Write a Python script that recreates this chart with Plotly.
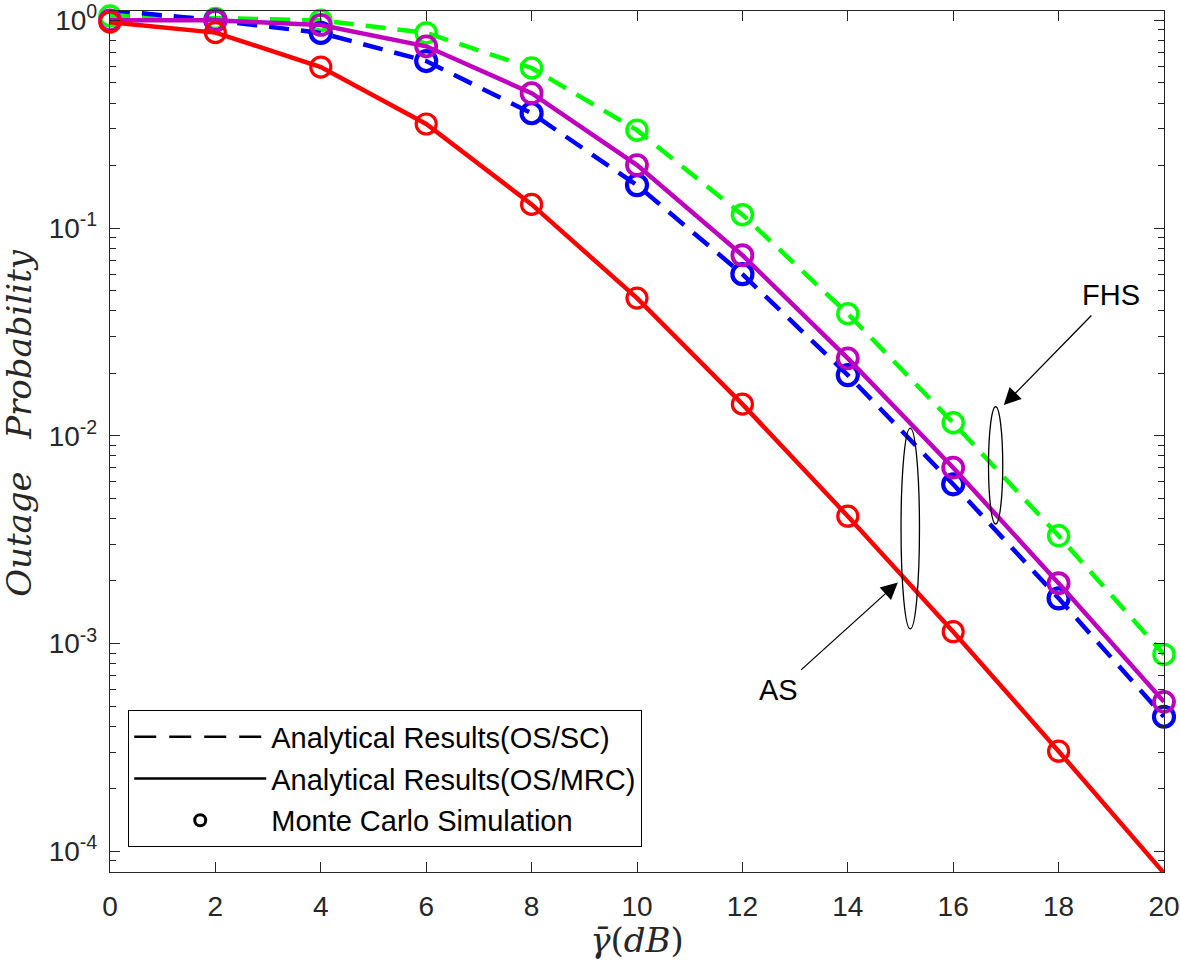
import plotly.graph_objects as go

snr_db = [0, 2, 4, 6, 8, 10, 12, 14, 16, 18, 20]

# Outage probability values
sc_fhs = [1.05, 1.02, 1.0, 0.87, 0.59, 0.296, 0.116, 0.0387, 0.01155, 0.0033, 0.000886]      # green dashed
mrc_fhs = [1.0, 1.0, 0.95, 0.75, 0.446, 0.201, 0.074, 0.0236, 0.00702, 0.00195, 0.000524]    # magenta solid
sc_as = [1.12, 1.0, 0.87, 0.637, 0.357, 0.161, 0.060, 0.0196, 0.00584, 0.00165, 0.000444]    # blue dashed
mrc_as = [0.98, 0.873, 0.596, 0.317, 0.130, 0.046, 0.0142, 0.0041, 0.00114, 0.000303, 0.0000785]  # red solid

ytick_exps = [0, -1, -2, -3, -4]
ytick_text = ["10<sup>0</sup>", "10<sup>-1</sup>", "10<sup>-2</sup>", "10<sup>-3</sup>", "10<sup>-4</sup>"]
xtick_vals = [0, 2, 4, 6, 8, 10, 12, 14, 16, 18, 20]

legend_names = ["Analytical Results(OS/SC)", "Analytical Results(OS/MRC)", "Monte Carlo Simulation"]

fig = go.Figure()

series = [
    (sc_fhs, "#00FF00", "20px,12px", 3.5),
    (sc_as, "#0000FF", "20px,12px", 4.2),
    (mrc_fhs, "#BF00BF", "solid", 3.8),
    (mrc_as, "#FF0000", "solid", 3.2),
]
for vals, col, dash, mlw in series:
    fig.add_trace(go.Scatter(
        x=snr_db, y=vals, mode="lines+markers",
        line=dict(color=col, width=4.5, dash=dash),
        marker=dict(symbol="circle-open", size=20, color=col, line=dict(width=mlw, color=col)),
        showlegend=False, cliponaxis=False,
    ))

# legend entries
fig.add_trace(go.Scatter(x=[None], y=[None], mode="lines", name=legend_names[0],
                         line=dict(color="black", width=2.5, dash="22px,13px"), legendgroup="a"))
fig.add_trace(go.Scatter(x=[None], y=[None], mode="lines", name=legend_names[1],
                         line=dict(color="black", width=2.5), legendgroup="b"))
fig.add_trace(go.Scatter(x=[None], y=[None], mode="markers", name=legend_names[2],
                         marker=dict(symbol="circle-open", size=11, color="black", line=dict(width=3, color="black")),
                         legendgroup="c"))

# ellipses
fig.add_shape(type="circle", xref="x", yref="y", x0=15.01, x1=15.36, y0=0.001175, y1=0.01089,
              line=dict(color="black", width=1.3))
fig.add_shape(type="circle", xref="x", yref="y", x0=16.67, x1=16.94, y0=0.00376, y1=0.0138,
              line=dict(color="black", width=1.3))

# labelled arrows (annotation positions on the log axis are in log10 units)
fig.add_annotation(x=16.96, y=-1.852, ax=19.0, ay=-1.323, axref="x", ayref="y", xref="x", yref="y",
                   text="FHS", showarrow=True, arrowhead=2, arrowsize=2.6, arrowwidth=1.3, arrowcolor="black",
                   standoff=0, startstandoff=4,
                   font=dict(family="Liberation Sans", size=29, color="black"))
fig.add_annotation(x=14.95, y=-2.706, ax=12.69, ay=-3.224, axref="x", ayref="y", xref="x", yref="y",
                   text="AS", showarrow=True, arrowhead=2, arrowsize=2.6, arrowwidth=1.3, arrowcolor="black",
                   standoff=0, startstandoff=4,
                   font=dict(family="Liberation Sans", size=29, color="black"))

# y-axis title placed as a rotated annotation to match the reference position
fig.add_annotation(x=-0.087, y=0.522, xref="paper", yref="paper", xanchor="center", yanchor="middle",
                   text="<i>Outage\u00a0\u00a0\u00a0Probability</i>", textangle=-90, showarrow=False,
                   font=dict(family="DejaVu Serif", size=34, color="#262626"))

axis_common = dict(
    showline=True, linecolor="#262626", linewidth=1.3, mirror="ticks",
    ticks="inside", ticklen=10, tickwidth=1.3, tickcolor="#262626",
    showgrid=False, zeroline=False, automargin=False, ticklabeloverflow="allow",
    tickfont=dict(family="Liberation Sans", size=28, color="#262626"),
)

minor_vals = [m * 10 ** e for e in [-5, -4, -3, -2, -1, 0] for m in range(2, 10)]

fig.update_xaxes(range=[0, 20], tickvals=xtick_vals, ticklabelstandoff=9, **axis_common,
                 title=dict(text="<i>γ̄</i>(<i>dB</i>)", font=dict(family="DejaVu Serif", size=34, color="#262626"),
                            standoff=0))
fig.update_yaxes(type="log", range=[-4.1, 0.045], tickvals=[10 ** e for e in ytick_exps], ticktext=ytick_text,
                 ticklabelstandoff=6,
                 minor=dict(tickvals=minor_vals, ticks="inside", ticklen=6, tickwidth=1.3, tickcolor="#262626"),
                 **axis_common)

fig.update_layout(
    width=1180, height=960,
    margin=dict(l=110, r=16, t=11, b=88),
    paper_bgcolor="white", plot_bgcolor="white",
    legend=dict(x=0.017, y=0.188, xanchor="left", yanchor="top",
                bgcolor="white", bordercolor="black", borderwidth=1.3,
                font=dict(family="Liberation Sans", size=29, color="black"),
                tracegroupgap=1, itemwidth=132),
)

# remove the default 8px page margin so the figure fills the window exactly
fig.write_html("out.html", config={"displayModeBar": False},
               post_script="document.body.style.margin='0px';")
